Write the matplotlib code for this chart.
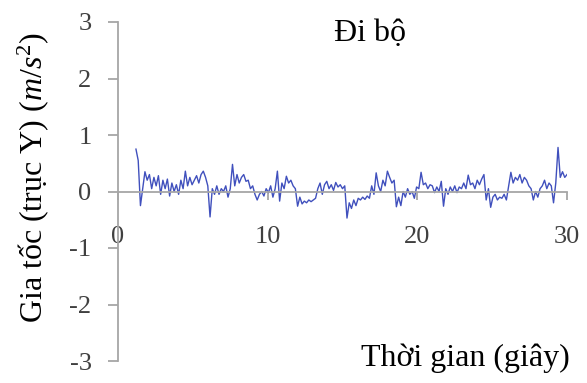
#!/usr/bin/env python3
"""
Walking acceleration (Y axis) over time, Excel-style chart
"""

import numpy as np
import matplotlib
matplotlib.use('Agg')
import matplotlib.pyplot as plt

# Time axis: samples every 0.15 s from 1.2 s to 30 s
time_s = np.round(1.2 + 0.15 * np.arange(193), 2)

# Acceleration values (m/s^2)
accel_y = [
    0.75, 0.55, -0.25, 0.05, 0.35, 0.20, 0.30, 0.05, 0.25, 0.10,
    0.28, -0.05, 0.20, 0.05, 0.22, -0.08, 0.15, 0.00, 0.12, -0.05,
    0.20, 0.05, 0.36, 0.10, 0.25, 0.12, 0.20, 0.28, 0.15, 0.30,
    0.36, 0.25, 0.10, -0.45, 0.05, -0.05, 0.10, -0.05, 0.05, 0.00,
    0.10, -0.10, 0.05, 0.48, 0.10, 0.30, 0.15, 0.25, 0.30, 0.18,
    0.20, 0.05, 0.10, -0.05, -0.15, -0.05, 0.00, -0.08, 0.05, -0.02,
    0.10, -0.10, 0.05, 0.36, -0.17, 0.15, 0.05, 0.27, 0.15, 0.20,
    0.10, 0.05, -0.26, -0.10, -0.22, -0.17, -0.20, -0.15, -0.18, -0.15,
    -0.12, 0.05, 0.15, -0.05, 0.12, 0.18, 0.05, 0.12, 0.02, 0.16,
    0.08, 0.12, 0.05, 0.10, -0.47, -0.20, -0.30, -0.15, -0.25, -0.12,
    -0.15, -0.10, -0.14, -0.08, -0.12, 0.10, -0.05, 0.33, 0.10, 0.00,
    0.20, 0.10, 0.36, 0.25, 0.15, 0.20, -0.27, -0.10, -0.25, 0.00,
    -0.10, 0.05, -0.05, 0.00, -0.12, 0.08, 0.05, 0.34, 0.12, 0.15,
    0.05, 0.12, 0.10, -0.02, 0.08, 0.00, 0.18, -0.26, 0.05, -0.05,
    0.08, 0.00, 0.10, -0.02, 0.08, 0.05, 0.15, 0.05, 0.29, 0.12,
    0.15, 0.05, 0.20, 0.12, 0.22, 0.30, -0.15, 0.05, -0.28, -0.10,
    -0.05, -0.15, -0.10, -0.12, -0.05, -0.15, 0.10, 0.34, 0.15, 0.25,
    0.20, 0.30, 0.15, 0.25, 0.20, 0.10, 0.05, -0.15, 0.00, -0.10,
    0.05, 0.10, 0.20, 0.05, 0.15, 0.10, -0.20, 0.15, 0.78, 0.25,
    0.35, 0.25, 0.30,
]

x_ticks = [0, 10, 20, 30]
y_ticks = [-3, -2, -1, 0, 1, 2, 3]

title = 'Đi bộ'
x_label = 'Thời gian (giây)'
y_label = 'Gia tốc (trục Y) ($m/s^2$)'

# Times-like fonts, also for the math part
plt.rcParams['font.family'] = ['Liberation Serif', 'DejaVu Serif']
plt.rcParams['mathtext.fontset'] = 'custom'
plt.rcParams['mathtext.rm'] = 'Liberation Serif'
plt.rcParams['mathtext.it'] = 'Liberation Serif:italic'
plt.rcParams['axes.unicode_minus'] = False

W, H = 587, 383
fig = plt.figure(figsize=(W / 100, H / 100), dpi=100)
ax = fig.add_axes([118 / W, 22 / H, 449 / W, 339 / H])

ax.plot(time_s, accel_y, color='#4050bd', linewidth=1.0)

ax.set_xlim(0, 30)
ax.set_ylim(-3, 3)

# Excel-like axes: y axis on the left, x axis crossing at zero
axis_grey = '#a6a6a6'
label_grey = '#404040'
for side in ['top', 'right']:
    ax.spines[side].set_visible(False)
ax.spines['bottom'].set_position(('data', 0))
ax.spines['left'].set_color(axis_grey)
ax.spines['bottom'].set_color(axis_grey)
ax.spines['left'].set_linewidth(1.3)
ax.spines['bottom'].set_linewidth(1.3)

ax.set_xticks(x_ticks)
ax.set_yticks(y_ticks)
ax.tick_params(axis='x', direction='out', length=6, width=1.3, color=axis_grey,
               labelsize=19, pad=19, labelcolor=label_grey)
ax.tick_params(axis='y', direction='out', length=7, width=1.3, color=axis_grey,
               labelsize=19, pad=12, labelcolor=label_grey)

fig.text(370 / W, 1 - 33 / H, title, fontsize=23, ha='center', va='center')
fig.text(465 / W, 1 - 358 / H, x_label, fontsize=23, ha='center', va='center')
fig.text(33 / W, 1 - 177 / H, y_label, fontsize=23, ha='center', va='center',
         rotation=90)

plt.savefig('out.png', dpi=100)
plt.close()
